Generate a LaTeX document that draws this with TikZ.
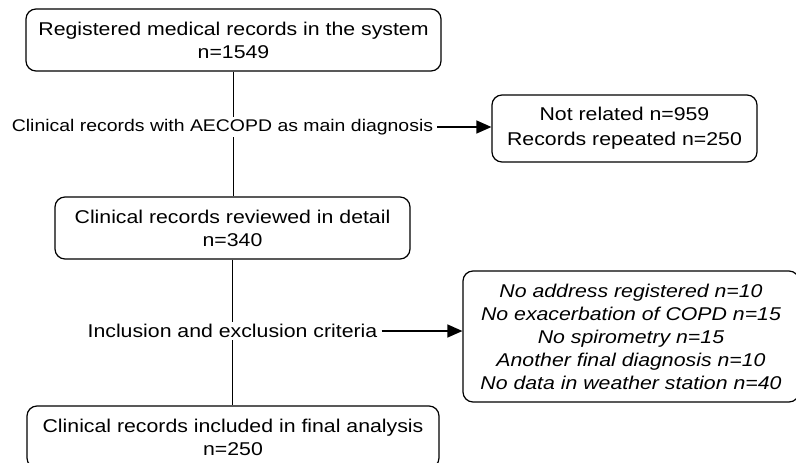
\documentclass[tikz,border=0pt]{standalone}
\usepackage{fontspec}
\setmainfont{Liberation Sans}[FakeStretch=1.15]
\usetikzlibrary{arrows.meta}
\begin{document}
\begin{tikzpicture}[x=1pt,y=-1pt,
  box/.style={draw, rounded corners=10pt, line width=1.2pt, inner sep=0pt, align=center, font=\fontsize{18.5}{23}\selectfont},
  lbl/.style={fill=white, inner xsep=4pt, inner ysep=2pt, font=\fontsize{18.5}{23}\selectfont},
  conn/.style={line width=1.2pt},
  arr/.style={line width=1.2pt, -{Triangle[length=15pt,width=13pt]}}]
\clip (0,0) rectangle (796,463);
\useasboundingbox (0,0) rectangle (796,463);
\node[box, minimum width=415pt, minimum height=62pt] (reg) at (233.5,40) {Registered medical records in the system\\n=1549};
\node[box, minimum width=355pt, minimum height=62pt] (rev) at (232.5,228) {Clinical records reviewed in detail\\n=340};
\node[box, minimum width=412pt, minimum height=62pt] (fin) at (233,437) {Clinical records included in final analysis\\n=250};
\node[box, minimum width=265pt, minimum height=67pt, font=\fontsize{18.5}{25}\selectfont] (nr) at (624.5,128.5) {Not related n=959\\Records repeated n=250};
\node[box, minimum width=336pt, minimum height=131pt, font=\fontsize{18.5}{23}\selectfont\itshape] (ex) at (631,336.5) {No address registered n=10\\No exacerbation of COPD n=15\\No spirometry n=15\\Another final diagnosis n=10\\No data in weather station n=40};
\draw[conn] (reg.south) -- (reg.south |- rev.north);
\draw[conn] (rev.south) -- (rev.south |- fin.north);
\node[lbl, font=\fontsize{16.9}{20}\selectfont] (l1) at (222.5,127) {Clinical records with AECOPD as main diagnosis};
\node[lbl] (l2) at (232.5,331) {Inclusion and exclusion criteria};
\draw[arr] (l1.east) -- (l1.east -| nr.west);
\draw[arr] (l2.east) -- (l2.east -| ex.west);
\end{tikzpicture}
\end{document}
